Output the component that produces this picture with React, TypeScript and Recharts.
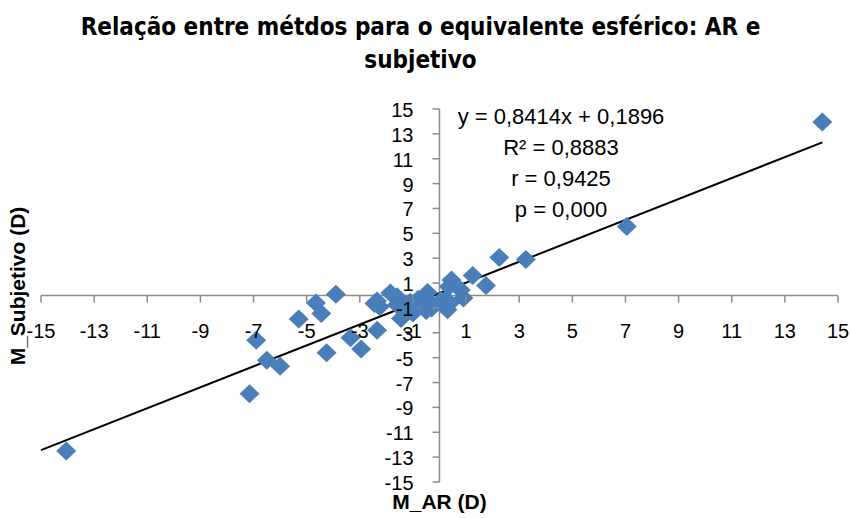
import React from "react";
import {
  ScatterChart,
  Scatter,
  XAxis,
  YAxis,
  ReferenceLine,
} from "recharts";

// M_AR (D) vs M_Subjetivo (D), one point per eye
const arValues = [
  14.41, 7.05, 3.25, 2.25, 1.75, 1.25, 0.45, 0.8, 0.9, 0.35, 0.4, 0.25, 0.3,
  0.05, -0.35, -0.45, -0.3, -0.5, -0.8, -1.1, -1.0, -1.25, -1.45, -1.6, -1.6,
  -1.85, -2.25, -2.35, -2.45, -2.35, -2.95, -3.35, -3.9, -4.25, -4.45, -4.65,
  -5.3, -6.0, -6.5, -6.9, -7.15, -14.05,
];
const subjValues = [
  13.95, 5.55, 2.9, 3.05, 0.8, 1.6, 1.25, 0.45, -0.2, 0.7, -0.6, -0.35, -1.15,
  -0.4, -0.6, 0.25, -1.0, -1.2, -0.3, -0.55, -1.4, -0.9, -1.85, -0.1, -0.75,
  0.2, -0.9, -0.45, -0.65, -2.8, -4.3, -3.4, 0.1, -4.6, -1.45, -0.6, -1.9,
  -5.7, -5.2, -3.6, -7.9, -12.5,
];

const axisTicks = [-15, -13, -11, -9, -7, -5, -3, -1, 1, 3, 5, 7, 9, 11, 13, 15];

const slope = 0.8414;
const intercept = 0.1896;
const statLines = ["y = 0,8414x + 0,1896", "R² = 0,8883", "r = 0,9425", "p = 0,000"];

const points = arValues.map((x, i) => ({ x, y: subjValues[i] }));

// trendline runs from the axis minimum to the largest AR value
const trendStart = -15;
const trendEnd = Math.max(...arValues);

const W = 851;
const H = 518;
const MARGIN = { top: 109, right: 13, left: 1, bottom: 6 };
const Y_AXIS_W = 40;
const X_AXIS_H = 30;
const PLOT_LEFT = MARGIN.left + Y_AXIS_W;
const PLOT_W = W - PLOT_LEFT - MARGIN.right;
const PLOT_H = H - MARGIN.top - MARGIN.bottom - X_AXIS_H;
// axes cross at the origin, which sits in the middle of the symmetric domain
const ZERO_X = PLOT_LEFT + PLOT_W / 2;
const ZERO_Y = MARGIN.top + PLOT_H / 2;

const AXIS_COLOR = "#8a8a8a";
const TICK_FONT = "'Liberation Sans', Arial, sans-serif";
const MARKER = "#4A7EBB";

const XTick = (props: any) => {
  const { x, payload } = props;
  return (
    <g>
      <line x1={x} x2={x} y1={ZERO_Y} y2={ZERO_Y + 7} stroke={AXIS_COLOR} strokeWidth={1.5} />
      <text
        x={x}
        y={ZERO_Y + 35}
        textAnchor="middle"
        dominantBaseline="central"
        fontFamily={TICK_FONT}
        fontSize={20}
        fill="#000"
      >
        {payload.value}
      </text>
    </g>
  );
};

const YTick = (props: any) => {
  const { y, payload } = props;
  return (
    <g>
      <line x1={ZERO_X - 7} x2={ZERO_X} y1={y} y2={y} stroke={AXIS_COLOR} strokeWidth={1.5} />
      <text
        x={ZERO_X - 26}
        y={y + 1}
        textAnchor="end"
        dominantBaseline="central"
        fontFamily={TICK_FONT}
        fontSize={20}
        fill="#000"
      >
        {payload.value}
      </text>
    </g>
  );
};

const Diamond = (props: any) => {
  const { cx, cy } = props;
  const hw = 10;
  const hh = 9.5;
  return (
    <polygon
      points={`${cx},${cy - hh} ${cx + hw},${cy} ${cx},${cy + hh} ${cx - hw},${cy}`}
      fill={MARKER}
    />
  );
};

export default function App() {
  return (
    <div
      style={{
        position: "absolute",
        left: 0,
        top: 0,
        width: W,
        height: H,
        background: "#fff",
        overflow: "hidden",
      }}
    >
      <div
        style={{
          position: "absolute",
          left: 0,
          width: W - 10,
          top: 11,
          textAlign: "center",
          fontFamily: "'DejaVu Sans Condensed', 'Liberation Sans Narrow', Arial, sans-serif",
          fontWeight: "bold",
          fontSize: 24,
          lineHeight: "33px",
          color: "#000",
        }}
      >
        Relação entre métdos para o equivalente esférico: AR e
        <br />
        subjetivo
      </div>

      <ScatterChart width={W} height={H} margin={MARGIN}>
        <XAxis
          type="number"
          dataKey="x"
          domain={[-15, 15]}
          ticks={axisTicks}
          height={X_AXIS_H}
          axisLine={false}
          tickLine={false}
          tick={<XTick />}
          interval={0}
        />
        <YAxis
          type="number"
          dataKey="y"
          domain={[-15, 15]}
          ticks={axisTicks}
          width={Y_AXIS_W}
          axisLine={false}
          tickLine={false}
          tick={<YTick />}
          interval={0}
        />
        <ReferenceLine y={0} stroke={AXIS_COLOR} strokeWidth={1.5} />
        <ReferenceLine x={0} stroke={AXIS_COLOR} strokeWidth={1.5} />
        <Scatter data={points} shape={<Diamond />} isAnimationActive={false} />
        <ReferenceLine
          segment={[
            { x: trendStart, y: slope * trendStart + intercept },
            { x: trendEnd, y: slope * trendEnd + intercept },
          ]}
          stroke="#000"
          strokeWidth={2}
          ifOverflow="visible"
        />
      </ScatterChart>

      <div
        style={{
          position: "absolute",
          left: 561 - 150,
          width: 300,
          top: 101,
          textAlign: "center",
          fontFamily: TICK_FONT,
          fontSize: 22,
          lineHeight: "31px",
          color: "#000",
        }}
      >
        {statLines.map((s) => (
          <div key={s}>{s}</div>
        ))}
      </div>

      <div
        style={{
          position: "absolute",
          left: 0,
          width: W,
          top: 490,
          textAlign: "center",
          paddingLeft: 28,
          boxSizing: "border-box",
          fontFamily: TICK_FONT,
          fontWeight: "bold",
          fontSize: 21,
          color: "#000",
        }}
      >
        M_AR (D)
      </div>
      <div
        style={{
          position: "absolute",
          left: 18,
          top: 286,
          transform: "translate(-50%, -50%) rotate(-90deg)",
          whiteSpace: "nowrap",
          fontFamily: TICK_FONT,
          fontWeight: "bold",
          fontSize: 21,
          color: "#000",
        }}
      >
        M_Subjetivo (D)
      </div>
    </div>
  );
}
